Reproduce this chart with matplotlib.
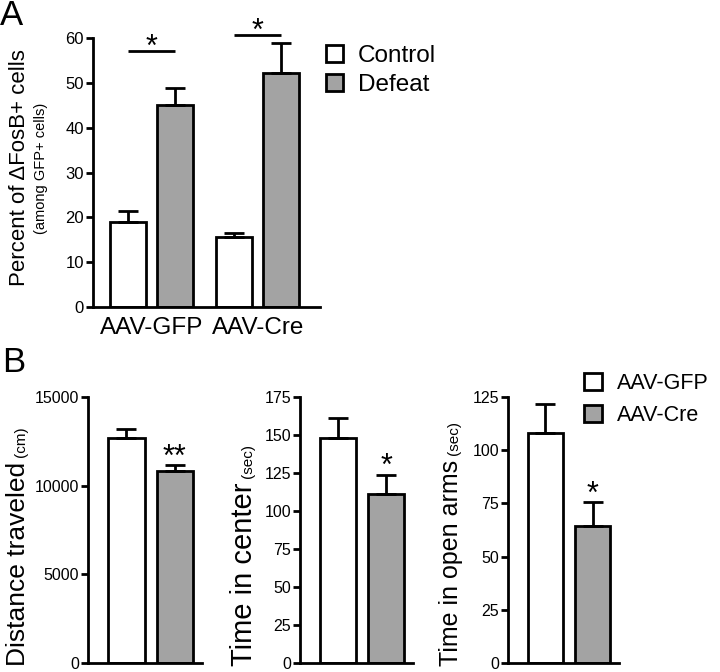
import matplotlib
matplotlib.use("Agg")
import matplotlib.pyplot as plt
from matplotlib.patches import Patch

plt.rcParams['font.family'] = ['Liberation Sans', 'DejaVu Sans']

# ---- panel A data ----
groups_a = ["AAV-GFP", "AAV-Cre"]
conds_a = ["Control", "Defeat"]
ctrl_mean = [19.0, 15.6]
ctrl_sem = [2.5, 0.9]
defeat_mean = [45.1, 52.2]
defeat_sem = [3.9, 6.7]
sig_a_height = [57.2, 60.7]
sig_a_text = ["*", "*"]

# ---- panel B data ----
viruses = ["AAV-GFP", "AAV-Cre"]
dist_mean = [12700, 10800]
dist_sem = [520, 360]
center_mean = [148.3, 111.4]
center_sem = [12.6, 12.6]
arms_mean = [108.2, 64.3]
arms_sem = [13.3, 11.2]
b_stars = ["**", "*", "*"]

W, H = 720, 672
fig = plt.figure(figsize=(W / 100, H / 100), dpi=100)

def fx(x):
    return x / W

def fy(y):
    return 1 - y / H

colors = ["white", "#a3a3a3"]
lw = 2.0

def style_axis(ax, ymax, ystep, fs):
    ax.spines['top'].set_visible(False)
    ax.spines['right'].set_visible(False)
    for s in ['left', 'bottom']:
        ax.spines[s].set_linewidth(lw)
    ax.set_ylim(0, ymax)
    ax.set_yticks(range(0, ymax + 1, ystep))
    ax.tick_params(axis='y', length=5, width=lw, pad=1.5, labelsize=fs)
    ax.tick_params(axis='x', length=0)

# ---------- Panel A ----------
axA = fig.add_axes([fx(93), fy(307), fx(320) - fx(93), fy(38.3) - fy(307)])
gap = 2.26
xs_c = [g * gap for g in range(len(groups_a))]
xs_d = [g * gap + 1 for g in range(len(groups_a))]
bw = 0.77
ek = dict(elinewidth=lw, capthick=lw, capsize=7, ecolor='black')
axA.bar(xs_c, ctrl_mean, bw, color=colors[0], edgecolor='black', linewidth=lw,
        yerr=[[0] * 2, ctrl_sem], error_kw=ek, label=conds_a[0])
axA.bar(xs_d, defeat_mean, bw, color=colors[1], edgecolor='black', linewidth=lw,
        yerr=[[0] * 2, defeat_sem], error_kw=ek, label=conds_a[1])
for i in range(len(groups_a)):
    axA.plot([xs_c[i], xs_d[i]], [sig_a_height[i]] * 2, color='black', lw=lw,
             clip_on=False, solid_capstyle='butt')
    axA.annotate(sig_a_text[i], ((xs_c[i] + xs_d[i]) / 2, sig_a_height[i]),
                 xytext=(0, -3.5), textcoords='offset points', ha='center',
                 va='baseline', fontsize=22, annotation_clip=False)
axA.set_xlim(-0.745, 4.085)
style_axis(axA, 60, 10, 12)
axA.set_xticks([(c + d) / 2 for c, d in zip(xs_c, xs_d)])
axA.set_xticklabels(groups_a, fontsize=17.5)
axA.tick_params(axis='x', pad=7)

handles = [Patch(facecolor=colors[0], edgecolor='black', linewidth=lw),
           Patch(facecolor=colors[1], edgecolor='black', linewidth=lw)]
axA.legend(handles, conds_a, loc='upper left', bbox_to_anchor=(fx(326), fy(45)),
           bbox_transform=fig.transFigure, frameon=False, fontsize=17.5,
           handlelength=0.7, handleheight=0.7, handletextpad=0.6,
           labelspacing=0.3, borderpad=0, borderaxespad=0)

fig.text(fx(25), fy(167.5), "Percent of \u0394FosB+ cells", rotation=90,
         rotation_mode='anchor', ha='center', va='baseline', fontsize=16)
fig.text(fx(45.5), fy(168.5), "(among GFP+ cells)", rotation=90,
         rotation_mode='anchor', ha='center', va='baseline', fontsize=10.5)
fig.text(fx(0), fy(25), "A", fontsize=25, va='baseline', ha='left')
fig.text(fx(2), fy(372), "B", fontsize=25, va='baseline', ha='left')

# ---------- Panel B ----------
b_specs = [
    (88, 202, dist_mean, dist_sem, 15000, 5000, "Distance traveled", "(cm)", 25, 19),
    (300, 413, center_mean, center_sem, 175, 25, "Time in center", "(sec)", 252, 21),
    (508, 619, arms_mean, arms_sem, 125, 25, "Time in open arms", "(sec)", 458, 18),
]
main_labels = []
bx = [0, 1]
for k, (x0, x1, m, e, ymax, ystep, lab, unit, lab_x, lab_fs) in enumerate(b_specs):
    ax = fig.add_axes([fx(x0), fy(663), fx(x1) - fx(x0), fy(397) - fy(663)])
    ax.bar(bx, m, 0.75, color=colors, edgecolor='black', linewidth=lw,
           yerr=[[0, 0], e], error_kw=dict(elinewidth=lw, capthick=lw, capsize=7))
    ax.annotate(b_stars[k], (bx[1], m[1] + e[1]), xytext=(0, -0.5),
                textcoords='offset points', ha='center', va='baseline', fontsize=22)
    ax.set_xlim(-0.79, 1.56)
    style_axis(ax, ymax, ystep, 11.5)
    ax.set_xticks([])
    t = fig.text(fx(lab_x), fy(666), lab, rotation=90, rotation_mode='anchor',
                 ha='left', va='baseline', fontsize=lab_fs)
    main_labels.append((t, lab_x, unit))
    if k == 2:
        ax.legend(handles, viruses, loc='upper left',
                  bbox_to_anchor=(fx(584), fy(373)), bbox_transform=fig.transFigure,
                  frameon=False, fontsize=15.5, handlelength=0.85, handleheight=0.82,
                  handletextpad=0.7, labelspacing=0.5, borderpad=0, borderaxespad=0)

fig.canvas.draw()
r = fig.canvas.get_renderer()
for t, lab_x, unit in main_labels:
    bb = t.get_window_extent(r)
    fig.text(fx(lab_x), (bb.y1 + 5) / H, unit, rotation=90, rotation_mode='anchor',
             ha='left', va='baseline', fontsize=11)

fig.savefig("out.png", dpi=100)
